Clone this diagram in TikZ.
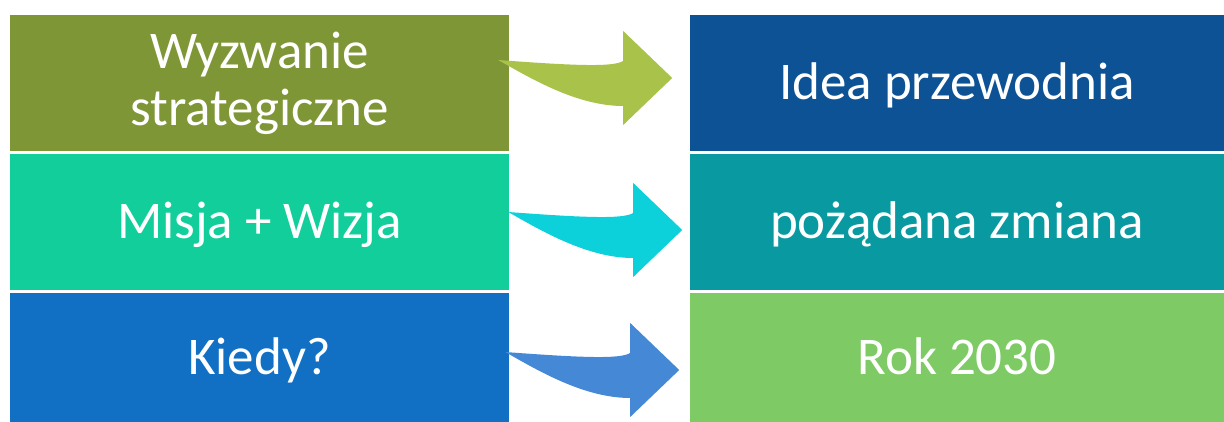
\documentclass[tikz,border=0pt]{standalone}
\usepackage{fontspec}
\setmainfont{Carlito}
\usetikzlibrary{calc,positioning}
\definecolor{olive}{HTML}{7F9636}
\definecolor{mint}{HTML}{12CE9B}
\definecolor{royal}{HTML}{1170C4}
\definecolor{navy}{HTML}{0D5294}
\definecolor{teal}{HTML}{089AA0}
\definecolor{grass}{HTML}{7ECA64}
\definecolor{arrowA}{HTML}{A8C24A}
\definecolor{arrowB}{HTML}{0CD0DA}
\definecolor{arrowC}{HTML}{4589D6}
\tikzset{box/.style={inner sep=0pt, text=white, align=center, font=\fontsize{53}{57}\selectfont},
leftbox/.style={box, minimum width=499pt, minimum height=136pt},
rightbox/.style={box, minimum width=534pt, minimum height=136pt},
oneline/.style={text height=33pt, text depth=0pt},
bentarrow/.pic={\path[pic actions] (0,0) .. controls (80,6) and (115,7) .. (125,1) -- (125,-29) -- (174,18) -- (125,65) -- (125,46) .. controls (80,46) and (35,20) .. (0,0) -- cycle;}}

\begin{document}
\begin{tikzpicture}[x=1pt, y=-1pt]
\useasboundingbox (0,0) rectangle (1224,422);
\node[leftbox, fill=olive] (wyz) at (259.5,83) {Wyzwanie\\strategiczne};
\node[leftbox, oneline, fill=mint] (mis) at (259.5,222) {Misja + Wizja};
\node[leftbox, oneline, fill=royal, minimum height=129pt] (kie) at (259.5,357.5) {Kiedy?};
\node[rightbox, oneline, fill=navy] (ide) at (957,83) {Idea przewodnia};
\node[rightbox, oneline, fill=teal] (zmi) at (957,222) {pożądana zmiana};
\node[rightbox, oneline, fill=grass, minimum height=129pt] (rok) at (957,357.5) {Rok 2030};

\pic[fill=arrowA] at ($(wyz.east)+(-11,-23)$) {bentarrow};
\pic[fill=arrowB] at ($(mis.east)+(-1,-10)$) {bentarrow};
\pic[fill=arrowC] at ($(kie.east)+(-4,-5.5)$) {bentarrow};
\end{tikzpicture}
\end{document}
